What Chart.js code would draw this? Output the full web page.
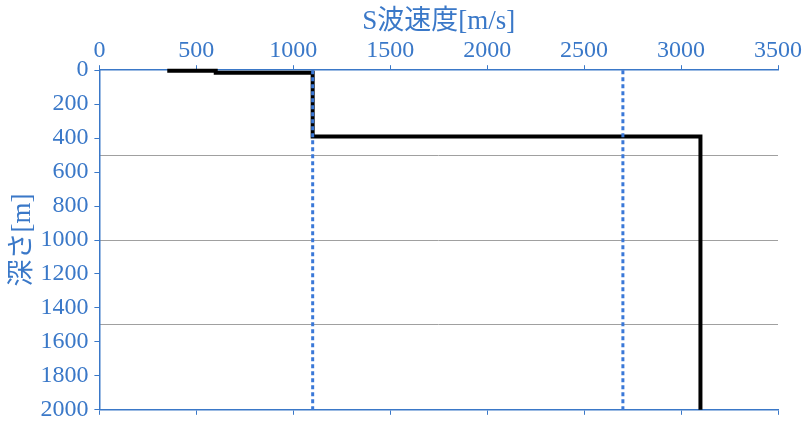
<!DOCTYPE html>
<html>
<head>
<meta charset="utf-8">
<script src="https://cdn.jsdelivr.net/npm/chart.js@4/dist/chart.umd.min.js"></script>
<style>
  html, body { margin: 0; padding: 0; background: #fff; }
  #wrap { width: 810px; height: 426px; position: relative; }
</style>
</head>
<body>
<div id="wrap"><canvas id="c"></canvas></div>
<script>
"use strict";
// S-wave velocity profile (step line) and two reference velocities (dotted)
const profVs    = [350, 600, 600, 1100, 1100, 3100, 3100];
const profDepth = [3,   3,   15,  15,   390,  390,  2000];
const refVs     = [1100, 2700];
const refDepth  = [0, 2000];
const xTitle = "S波速度[m/s]", yTitle = "深さ[m]";

const blue = "#3a78c8", gray = "#a0a0a0";
const fam = "'Liberation Serif', 'Noto Sans CJK JP', serif";
const tickFont = { family: fam, size: 24 };
const plain = v => String(v);

const pts = (xs, ys) => xs.map((x, i) => ({ x, y: ys[i] }));

const datasets = refVs.map(v => ({
  data: pts([v, v], refDepth), borderColor: "#3a78d8", borderWidth: 3,
  borderDash: [4, 3], pointRadius: 0, fill: false, clip: 4, xAxisID: "x", yAxisID: "y"
}));
datasets.push({
  data: pts(profVs, profDepth), borderColor: "#000", borderWidth: 4,
  pointRadius: 0, fill: false, clip: 4, xAxisID: "x", yAxisID: "y"
});

new Chart(document.getElementById("c"), {
  type: "line",
  data: { datasets },
  options: {
    responsive: true, maintainAspectRatio: false, animation: false,
    layout: { padding: { left: 7, right: 32, top: 4, bottom: 0 } },
    plugins: { legend: { display: false }, tooltip: { enabled: false } },
    scales: {
      x: {
        type: "linear", position: "top", min: 0, max: 3500,
        ticks: { stepSize: 500, color: blue, font: tickFont, padding: 0, callback: plain },
        grid: { drawOnChartArea: false, color: blue, tickLength: 5 },
        border: { color: blue, width: 1.5 },
        title: { display: true, text: xTitle, color: blue, font: { family: fam, size: 27 }, padding: { top: 2, bottom: -2 } }
      },
      xb: {
        type: "linear", position: "bottom", min: 0, max: 3500,
        ticks: { stepSize: 500, display: false },
        grid: { drawOnChartArea: false, color: blue, tickLength: 5 },
        border: { color: blue, width: 1.5 }
      },
      xg: {
        type: "linear", position: "top", min: 0, max: 3500,
        ticks: { stepSize: 1000, display: false },
        grid: { drawTicks: false, tickLength: 0,
          color: c => (c.tick && c.tick.value % 1000 === 0 && c.tick.value !== 0) ? gray : "rgba(0,0,0,0)" },
        border: { display: false }
      },
      y: {
        type: "linear", position: "left", reverse: true, min: 0, max: 2000,
        ticks: { stepSize: 200, color: blue, font: { family: fam, size: 24, lineHeight: 0.85 }, padding: 6, callback: plain },
        grid: { drawOnChartArea: false, color: blue, tickLength: 5 },
        border: { color: blue, width: 1.5 },
        title: { display: true, text: yTitle, color: blue, font: { family: fam, size: 27 }, padding: { top: 0, bottom: -5 } }
      },
      yg: {
        type: "linear", position: "left", reverse: true, min: 0, max: 2000,
        ticks: { stepSize: 500, display: false },
        grid: { drawTicks: false, tickLength: 0,
          color: c => (c.tick && c.tick.value > 0 && c.tick.value < 2000) ? gray : "rgba(0,0,0,0)" },
        border: { display: false }
      }
    }
  }
});
</script>
</body>
</html>
